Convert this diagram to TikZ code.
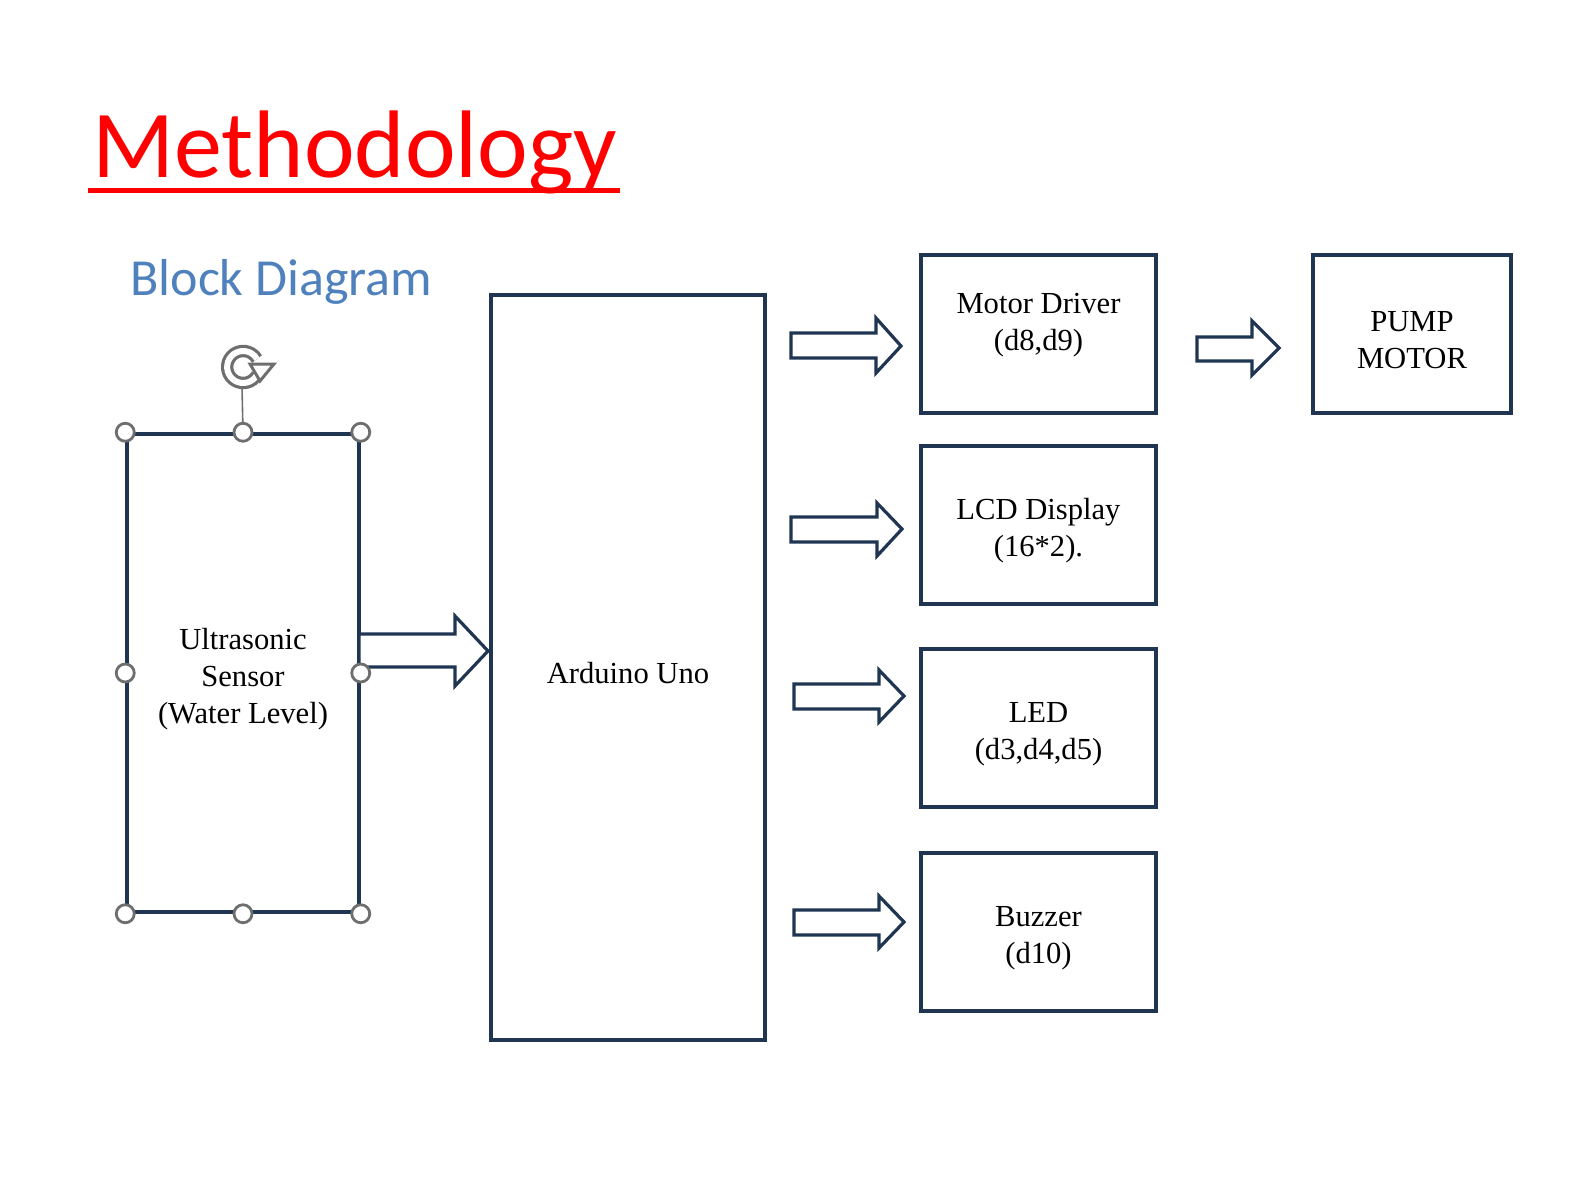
\documentclass[tikz,border=0pt]{standalone}
\usepackage{fontspec}
\setmainfont{Liberation Serif}
\newfontfamily\calibri{Carlito}
\usetikzlibrary{arrows}
\definecolor{navy}{RGB}{31,53,82}
\definecolor{hgray}{RGB}{110,110,110}
\definecolor{subblue}{RGB}{79,129,189}
\newcommand{\tstrut}{\rule{0pt}{16.5pt}}

\tikzset{
  blk/.style={draw=navy, line width=1.75pt, align=center, inner sep=0pt,
    font=\fontsize{15.3}{18.5}\selectfont},
  barrow/.style={draw=navy, line width=1.6pt, fill=white, line join=miter},
  handle/.style={circle, draw=hgray, fill=white, line width=1.4pt, minimum size=9pt, inner sep=0pt},
}

\begin{document}
\begin{tikzpicture}[x=0.5pt,y=0.5pt,yscale=-1,xscale=1]
\useasboundingbox (0,0) rectangle (1572,1178);

% Title
\node [anchor=base west, inner sep=0pt, text=red, font=\calibri\fontsize{48}{58}\selectfont] (title) at (92,177) {Methodology};
\draw [red, line width=2.5pt] (88,190) -- (620,190);
% Text Node
\node [anchor=base west, inner sep=0pt, text=subblue, font=\calibri\fontsize{26}{31}\selectfont] (sub) at (130,295) {Block Diagram};

%Shape: Rectangle
\node [blk, minimum width=116pt, minimum height=239pt] (sensor) at (243,673) {\tstrut Ultrasonic\\Sensor\\(Water Level)};
\node [blk, minimum width=137pt, minimum height=372.5pt] (uno) at (628,667.5) {\tstrut Arduino Uno};
\node [blk, minimum width=117.5pt, minimum height=79pt] (driver) at (1038.5,334) {\tstrut Motor Driver\\(d8,d9)\\\mbox{}};
\node [blk, minimum width=117.5pt, minimum height=79pt] (lcd) at (1038.5,525) {\tstrut LCD Display\\(16*2).};
\node [blk, minimum width=117.5pt, minimum height=79pt] (led) at (1038.5,728) {\tstrut LED\\(d3,d4,d5)};
\node [blk, minimum width=117.5pt, minimum height=79pt] (buzzer) at (1038.5,932) {\tstrut Buzzer\\(d10)};
\node [blk, minimum width=99pt, minimum height=79pt] (pump) at (1412,334) {\tstrut PUMP\\MOTOR};

%Shape: Right Arrow
\draw [barrow] (359,634) -- (455,634) -- (455,616) -- (488,651) -- (455,686) -- (455,667) -- (359,667) -- cycle ;
%Shape: Right Arrow
\draw [barrow] (791,333) -- (876,333) -- (876,318) -- (901,346) -- (876,373) -- (876,358) -- (791,358) -- cycle ;
%Shape: Right Arrow
\draw [barrow] (791,517) -- (877,517) -- (877,503) -- (902,529) -- (877,556) -- (877,542) -- (791,542) -- cycle ;
%Shape: Right Arrow
\draw [barrow] (794,684) -- (879,684) -- (879,670) -- (904,696) -- (879,722) -- (879,709) -- (794,709) -- cycle ;
%Shape: Right Arrow
\draw [barrow] (794,910) -- (879,910) -- (879,896) -- (904,922) -- (879,948) -- (879,935) -- (794,935) -- cycle ;
%Shape: Right Arrow
\draw [barrow] (1197,337) -- (1252,337) -- (1252,321) -- (1279,348) -- (1252,375) -- (1252,361) -- (1197,361) -- cycle ;

% selection handles
\node [handle] (h1) at (sensor.north west) {};
\node [handle] (h2) at (sensor.north) {};
\node [handle] (h3) at (sensor.north east) {};
\node [handle] (h4) at (sensor.west) {};
\node [handle] (h5) at (sensor.east) {};
\node [handle] (h6) at (sensor.south west) {};
\node [handle] (h7) at (sensor.south) {};
\node [handle] (h8) at (sensor.south east) {};
\coordinate (rot) at (243,367);
\draw [hgray, line width=0.8pt] (242,387) -- (h2);
\draw [hgray, line width=1.6pt, double=white, double distance=3pt] (257,375) arc (30:330:16);
\draw [hgray, line width=1.5pt, fill=white, line join=miter] (250,364) -- (274,364) -- (260,381) -- cycle;

\end{tikzpicture}
\end{document}
